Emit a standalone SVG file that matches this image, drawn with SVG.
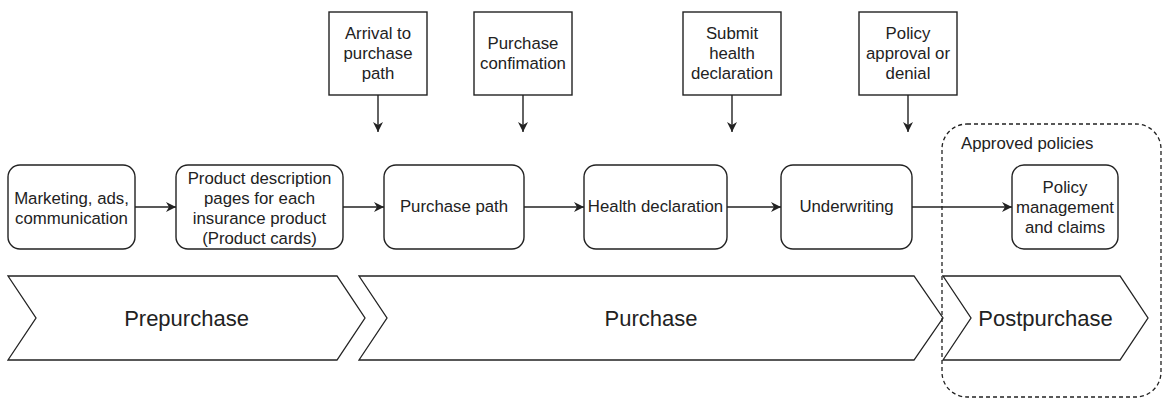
<svg xmlns="http://www.w3.org/2000/svg" width="1164" height="398" viewBox="0 0 1164 398">
  <style>
    .box { fill: #fff; stroke: #222; stroke-width: 1.4; }
    .step { fill: #fff; stroke: #222; stroke-width: 1.3; }
    .lbl { font-family: "Liberation Sans", Arial, sans-serif; font-size: 16.8px; fill: #222; text-anchor: middle; }
    .phase { font-family: "Liberation Sans", Arial, sans-serif; font-size: 22px; fill: #222; text-anchor: middle; }
    .edge { fill: none; stroke: #222; stroke-width: 1.4; marker-end: url(#arrow); }
    .group { fill: none; stroke: #222; stroke-width: 1.3; stroke-dasharray: 4 3; }
  </style>
  <defs>
    <marker id="arrow" markerUnits="userSpaceOnUse" markerWidth="12" markerHeight="12" refX="10" refY="5" orient="auto">
      <path d="M0,0 L10,5 L0,10 L3,5 Z" fill="#222"/>
    </marker>
  </defs>
  <rect width="1164" height="398" fill="#fff"/>

  <!-- Phase chevrons -->
  <g id="phase-prepurchase">
    <path class="step" d="M8,276 L337,276 L365,318 L337,360 L8,360 L36,318 Z"/>
    <text class="phase" x="186.5" y="326">Prepurchase</text>
  </g>
  <g id="phase-purchase">
    <path class="step" d="M359,276 L914,276 L943,318 L914,360 L359,360 L387,318 Z"/>
    <text class="phase" x="651" y="326">Purchase</text>
  </g>
  <g id="phase-postpurchase">
    <path class="step" d="M943,276 L1120,276 L1148,318 L1120,360 L943,360 L971,318 Z"/>
    <text class="phase" x="1045.5" y="326">Postpurchase</text>
  </g>

  <!-- Approved policies container -->
  <g id="approved-policies">
    <rect class="group" x="942" y="124" width="219" height="273" rx="25" ry="25"/>
    <text class="lbl" x="961" y="149" style="text-anchor:start">Approved policies</text>
  </g>

  <!-- Event boxes -->
  <g id="ev-arrival">
    <rect class="box" x="329" y="12" width="98" height="83"/>
    <text class="lbl" x="378" y="39">Arrival to</text>
    <text class="lbl" x="378" y="59">purchase</text>
    <text class="lbl" x="378" y="79">path</text>
  </g>
  <g id="ev-confirmation">
    <rect class="box" x="474" y="12" width="98" height="83"/>
    <text class="lbl" x="523" y="49">Purchase</text>
    <text class="lbl" x="523" y="69">confimation</text>
  </g>
  <g id="ev-submit">
    <rect class="box" x="683" y="12" width="98" height="83"/>
    <text class="lbl" x="732" y="39">Submit</text>
    <text class="lbl" x="732" y="59">health</text>
    <text class="lbl" x="732" y="79">declaration</text>
  </g>
  <g id="ev-approval">
    <rect class="box" x="859" y="12" width="98" height="83"/>
    <text class="lbl" x="908" y="39">Policy</text>
    <text class="lbl" x="908" y="59">approval or</text>
    <text class="lbl" x="908" y="79">denial</text>
  </g>

  <!-- Process steps -->
  <g id="marketing">
    <rect class="box" x="8" y="165" width="127" height="84" rx="12" ry="12"/>
    <text class="lbl" x="71.5" y="204">Marketing, ads,</text>
    <text class="lbl" x="71.5" y="224">communication</text>
  </g>
  <g id="product-pages">
    <rect class="box" x="176" y="165" width="167" height="84" rx="12" ry="12"/>
    <text class="lbl" x="259.5" y="184">Product description</text>
    <text class="lbl" x="259.5" y="204">pages for each</text>
    <text class="lbl" x="259.5" y="224">insurance product</text>
    <text class="lbl" x="259.5" y="244">(Product cards)</text>
  </g>
  <g id="purchase-path">
    <rect class="box" x="384" y="165" width="140" height="84" rx="12" ry="12"/>
    <text class="lbl" x="454" y="212">Purchase path</text>
  </g>
  <g id="health-declaration">
    <rect class="box" x="584" y="165" width="143" height="84" rx="12" ry="12"/>
    <text class="lbl" x="655.5" y="212">Health declaration</text>
  </g>
  <g id="underwriting">
    <rect class="box" x="781" y="165" width="131" height="84" rx="12" ry="12"/>
    <text class="lbl" x="846.5" y="212">Underwriting</text>
  </g>
  <g id="policy-management">
    <rect class="box" x="1012" y="165" width="106" height="84" rx="12" ry="12"/>
    <text class="lbl" x="1065" y="193">Policy</text>
    <text class="lbl" x="1065" y="213">management</text>
    <text class="lbl" x="1065" y="233">and claims</text>
  </g>

  <!-- Connectors -->
  <g id="connectors">
    <line class="edge" x1="135" y1="207" x2="176" y2="207"/>
    <line class="edge" x1="343" y1="207" x2="384" y2="207"/>
    <line class="edge" x1="524" y1="207" x2="584" y2="207"/>
    <line class="edge" x1="727" y1="207" x2="781" y2="207"/>
    <line class="edge" x1="912" y1="207" x2="1012" y2="207"/>
    <line class="edge" x1="378" y1="95" x2="378" y2="132"/>
    <line class="edge" x1="523" y1="95" x2="523" y2="132"/>
    <line class="edge" x1="732" y1="95" x2="732" y2="132"/>
    <line class="edge" x1="908" y1="95" x2="908" y2="132"/>
  </g>
</svg>
